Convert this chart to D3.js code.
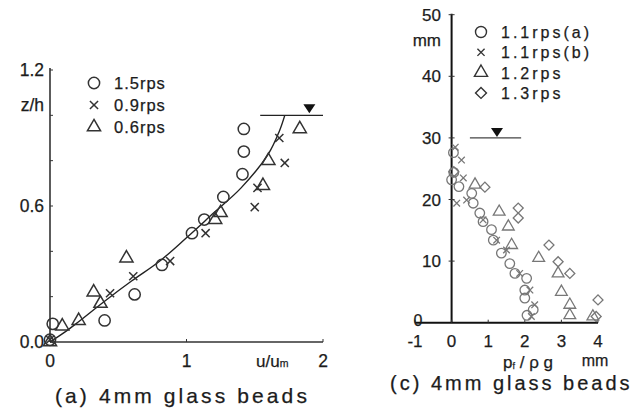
<!DOCTYPE html>
<html><head><meta charset="utf-8">
<script src="https://cdn.jsdelivr.net/npm/d3@7"></script>
<style>body{margin:0;background:#fff}svg{display:block}text{font-family:"Liberation Sans",Arial,sans-serif;fill:#1c1c1c;stroke:#1c1c1c;stroke-width:0.25}</style>
</head><body><svg id="c" width="636" height="417"></svg>
<script>
// ---------- Panel (a) data ----------
const aSeries = ["1.5rps","0.9rps","0.6rps"];
const aCircle = [[0,0.01],[0.02,0.08],[0.40,0.095],[0.62,0.21],[0.82,0.34],[1.04,0.48],[1.13,0.54],[1.27,0.64],[1.41,0.74],[1.42,0.84],[1.42,0.94]];
const aCross  = [[0,0.01],[0.44,0.215],[0.61,0.29],[0.88,0.357],[1.14,0.48],[1.50,0.595],[1.52,0.68],[1.72,0.79],[1.68,0.90]];
const aTri    = [[0,0.0],[0.09,0.07],[0.21,0.094],[0.32,0.22],[0.37,0.17],[0.56,0.37],[1.21,0.54],[1.25,0.57],[1.56,0.69],[1.60,0.80],[1.83,0.94]];
const aCurve  = [[0,0],[0.1,0.04],[0.2,0.085],[0.4,0.18],[0.6,0.27],[0.8,0.355],[1.0,0.46],[1.2,0.57],[1.4,0.68],[1.6,0.83],[1.68,0.93],[1.72,1.0]];
const aXTicks = [0,1,2];
const aYTicks = [0,0.2,0.4,0.6,0.8,1.0,1.2];
const aYLabels = [[0,"0.0"],[0.6,"0.6"],[1.2,"1.2"]];
const aSurface = [1.54,2.0,1.0];  // x1,x2,z

// ---------- Panel (c) data ----------
const cSeries = ["1.1rps(a)","1.1rps(b)","1.2rps","1.3rps"];
const cCircle = [[0.05,27.6],[0.06,24.4],[0,23.2],[0.2,22.1],[0.55,21.0],[0.59,19.4],[0.77,17.8],[0.86,16.4],[1.09,15.1],[1.14,13.4],[1.36,11.3],[1.59,9.6],[1.73,8.0],[2.05,7.2],[2.0,5.3],[2.0,4.0],[2.06,1.2],[2.23,2.1]];
const cCross  = [[0.27,26.4],[0.32,23.5],[0.14,19.4],[0.41,19.9],[0.86,16.7],[1.23,13.4],[1.5,11.8],[1.86,8.0],[2.14,5.3],[2.27,2.9],[2.18,1.0],[0.1,28.5]];
const cTri    = [[0.64,22.4],[1.3,18.0],[1.55,15.6],[1.64,12.6],[2.38,10.5],[2.91,8.0],[3.0,5.0],[3.23,2.9],[3.23,1.2],[3.86,1.0]];
const cDiam   = [[0.06,24.5],[0.91,22.0],[1.82,18.6],[1.82,17.0],[2.66,12.6],[2.91,9.9],[3.23,8.0],[4.0,3.7],[3.95,1.0]];
const cXTicks = [-1,0,1,2,3,4];
const cYTicks = [0,10,20,30,40,50];
const cSurface = [0.5,1.9,30];

const svg = d3.select("#c");
const sym = (t,s)=>d3.symbol().type(t).size(s)();

// ======== Panel (a) ========
const xa = d3.scaleLinear().domain([0,2]).range([50,323]);
const ya = d3.scaleLinear().domain([0,1.2]).range([342,70]);
const ga = svg.append("g");
const axCol="#333";
ga.append("line").attr("x1",xa(0)).attr("x2",xa(0)).attr("y1",ya(0)).attr("y2",ya(1.2)-2).attr("stroke",axCol).attr("stroke-width",1.6);
ga.append("line").attr("x1",xa(0)).attr("x2",xa(2)).attr("y1",ya(0)).attr("y2",ya(0)).attr("stroke",axCol).attr("stroke-width",1.6);
ga.selectAll(".yt").data(aYTicks).join("line").attr("x1",xa(0)).attr("x2",xa(0)+3).attr("y1",d=>ya(d)).attr("y2",d=>ya(d)).attr("stroke",axCol);
ga.selectAll(".xt").data(aXTicks).join("line").attr("x1",d=>xa(d)).attr("x2",d=>xa(d)).attr("y1",ya(0)).attr("y2",ya(0)-3).attr("stroke",axCol);
ga.selectAll(".yl").data(aYLabels).join("text").attr("x",xa(0)-6).attr("y",d=>ya(d[0])+6).attr("text-anchor","end").attr("font-size",17.5).text(d=>d[1]);
ga.append("text").attr("x",xa(0)-6).attr("y",ya(1.0)-4).attr("text-anchor","end").attr("font-size",17.5).text("z/h");
ga.selectAll(".xl").data(aXTicks).join("text").attr("x",d=>xa(d)).attr("y",367).attr("text-anchor","middle").attr("font-size",17.5).text(d=>d);
const um = ga.append("text").attr("x",256).attr("y",367).attr("font-size",17);
um.append("tspan").text("u/u");
um.append("tspan").attr("font-size",10.5).text("m");
ga.append("text").attr("x",55).attr("y",403).attr("font-size",21).attr("letter-spacing",3.1).text("(a) 4mm glass beads");

// surface
ga.append("line").attr("x1",xa(aSurface[0])).attr("x2",xa(aSurface[1])).attr("y1",ya(aSurface[2])).attr("y2",ya(aSurface[2])).attr("stroke","#222").attr("stroke-width",1.3);
ga.append("path").attr("d","M-6,-9L6,-9L0,0Z").attr("transform",`translate(${xa(1.9)},${ya(aSurface[2])-2})`).attr("fill","#111");

// curve
ga.append("path").datum(aCurve).attr("d",d3.line().x(d=>xa(d[0])).y(d=>ya(d[1])).curve(d3.curveCatmullRom)).attr("fill","none").attr("stroke","#222").attr("stroke-width",1.4);

const aStyle = {stroke:"#333","stroke-width":1.5,fill:"none"};
function pts(g,data,x,y,path,st,rot){
  const s=g.selectAll(null).data(data).join("path").attr("d",path)
   .attr("transform",d=>`translate(${x(d[0])},${y(d[1])})${rot?" rotate(45)":""}`);
  for(const k in st) s.attr(k,st[k]);
}
pts(ga,aCircle,xa,ya,sym(d3.symbolCircle,100),aStyle);
pts(ga,aCross,xa,ya,sym(d3.symbolTimes,45),aStyle);
pts(ga,aTri,xa,ya,sym(d3.symbolTriangle,75),aStyle);

// legend (a)
const aLegSyms=[sym(d3.symbolCircle,100),sym(d3.symbolTimes,45),sym(d3.symbolTriangle,75)];
aSeries.forEach((s,i)=>{
  const y=83+i*22;
  ga.append("path").attr("d",aLegSyms[i]).attr("transform",`translate(94,${y})`).attr("stroke","#333").attr("stroke-width",1.5).attr("fill","none");
  ga.append("text").attr("x",114).attr("y",y+6).attr("font-size",16.5).attr("letter-spacing",1).text(s);
});

// ======== Panel (c) ========
const xc = d3.scaleLinear().domain([-1,4]).range([415,598]);
const yc = d3.scaleLinear().domain([0,50]).range([322.7,14.7]);
const gc = svg.append("g");
gc.append("line").attr("x1",xc(0)).attr("x2",xc(0)).attr("y1",yc(0)).attr("y2",yc(50)-1).attr("stroke","#111").attr("stroke-width",2);
gc.append("line").attr("x1",xc(-1)).attr("x2",xc(4)).attr("y1",yc(0)).attr("y2",yc(0)).attr("stroke","#111").attr("stroke-width",2);
gc.selectAll(".yt").data(cYTicks.slice(1)).join("line").attr("x1",xc(0)-3).attr("x2",xc(0)+3).attr("y1",d=>yc(d)).attr("y2",d=>yc(d)).attr("stroke","#333");
gc.selectAll(".xt").data(cXTicks).join("line").attr("x1",d=>xc(d)).attr("x2",d=>xc(d)).attr("y1",yc(0)).attr("y2",yc(0)-3).attr("stroke","#333");
gc.selectAll(".yl").data(cYTicks.slice(1)).join("text").attr("x",441).attr("y",d=>yc(d)+6).attr("text-anchor","end").attr("font-size",17).text(d=>d);
gc.append("text").attr("x",418).attr("y",326).attr("text-anchor","middle").attr("font-size",16).text("0");
gc.append("text").attr("x",441).attr("y",46).attr("text-anchor","end").attr("font-size",17).text("mm");
gc.selectAll(".xl").data(cXTicks).join("text").attr("x",d=>xc(d)).attr("y",346.5).attr("text-anchor","middle").attr("font-size",17).text(d=>d);
gc.append("text").attr("x",595).attr("y",366).attr("text-anchor","middle").attr("font-size",16).text("mm");
const pf = gc.append("text").attr("x",503).attr("y",368).attr("font-size",17);
pf.append("tspan").text("p");
pf.append("tspan").attr("font-size",9).attr("dy",1).text("f");
pf.append("tspan").attr("dy",-1).text(" / ρ g");
gc.append("text").attr("x",390).attr("y",390).attr("font-size",20).attr("letter-spacing",3).text("(c) 4mm glass beads");

gc.append("line").attr("x1",xc(cSurface[0])).attr("x2",xc(cSurface[1])).attr("y1",yc(cSurface[2])).attr("y2",yc(cSurface[2])).attr("stroke","#444").attr("stroke-width",1.2);
gc.append("path").attr("d","M-6,-9L6,-9L0,0Z").attr("transform",`translate(${xc(1.24)},${yc(cSurface[2])-1})`).attr("fill","#111");

const cStyle = {stroke:"#777","stroke-width":1.3,fill:"none"};
pts(gc,cCircle,xc,yc,sym(d3.symbolCircle,72),cStyle);
pts(gc,cCross,xc,yc,sym(d3.symbolTimes,30),cStyle);
pts(gc,cTri,xc,yc,sym(d3.symbolTriangle,60),cStyle);
pts(gc,cDiam,xc,yc,sym(d3.symbolSquare,50),cStyle,true);

const cLegSyms=[[sym(d3.symbolCircle,95),false],[sym(d3.symbolTimes,35),false],[sym(d3.symbolTriangle,75),false],[sym(d3.symbolSquare,60),true]];
cSeries.forEach((s,i)=>{
  const y=32+i*20.3;
  gc.append("path").attr("d",cLegSyms[i][0]).attr("transform",`translate(481,${y})${cLegSyms[i][1]?" rotate(45)":""}`).attr("stroke","#333").attr("stroke-width",1.4).attr("fill","none");
  gc.append("text").attr("x",501).attr("y",y+6).attr("font-size",16).attr("letter-spacing",3).text(s);
});
</script></body></html>
